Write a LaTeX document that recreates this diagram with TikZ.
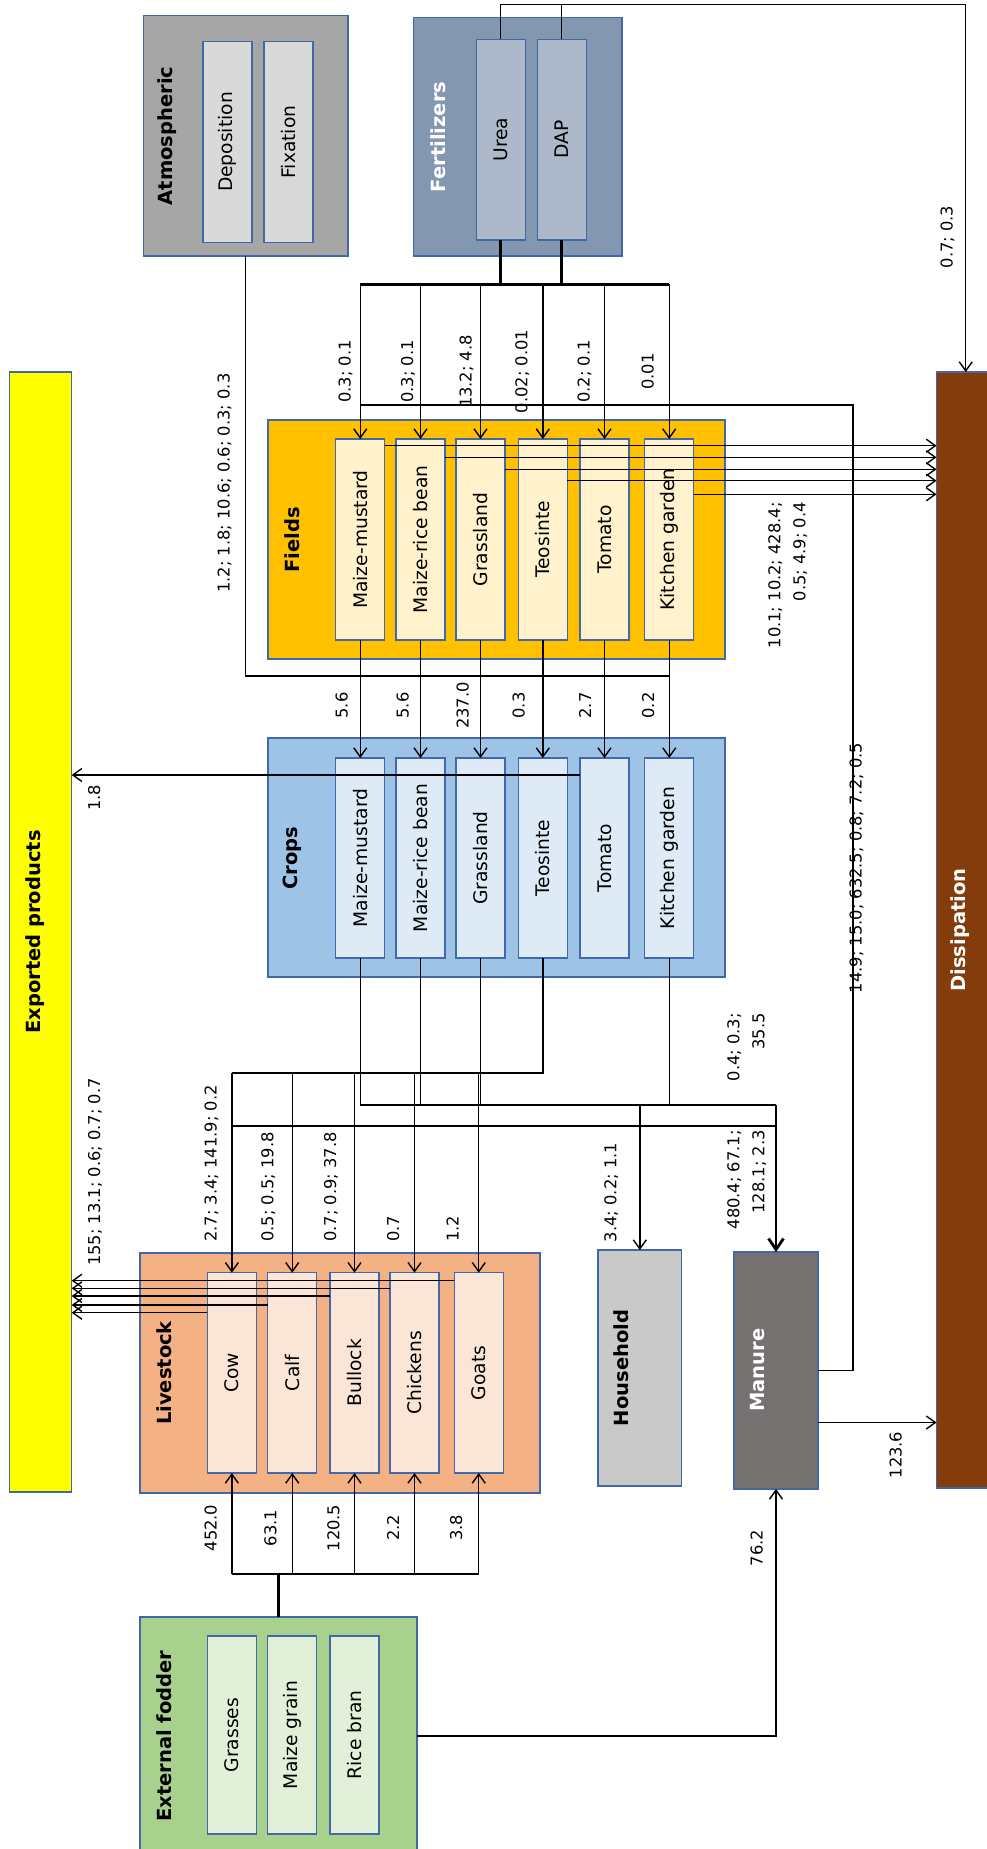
\documentclass[tikz,border=0pt]{standalone}
\usepackage{fontspec}
\setmainfont{DejaVu Sans}
\usetikzlibrary{arrows.meta}

\definecolor{bord}{RGB}{65,105,170}
\definecolor{atmO}{RGB}{166,166,166}
\definecolor{atmI}{RGB}{217,217,217}
\definecolor{ferO}{RGB}{132,151,176}
\definecolor{ferI}{RGB}{173,185,202}
\definecolor{fldO}{RGB}{255,192,0}
\definecolor{fldI}{RGB}{255,242,204}
\definecolor{crpO}{RGB}{157,195,230}
\definecolor{crpI}{RGB}{222,235,247}
\definecolor{expO}{RGB}{255,255,0}
\definecolor{disO}{RGB}{132,60,12}
\definecolor{lvsO}{RGB}{244,177,131}
\definecolor{lvsI}{RGB}{251,229,214}
\definecolor{hhO}{RGB}{201,201,201}
\definecolor{mnrO}{RGB}{118,113,113}
\definecolor{fodO}{RGB}{169,209,142}
\definecolor{fodI}{RGB}{226,240,217}

\begin{document}
\begin{tikzpicture}[x=1pt,y=-1pt,
  box/.style={draw=bord, line width=1.1pt, inner sep=0pt, outer sep=0pt},
  item/.style={box, minimum width=49pt, font=\fontsize{18.7}{22}\selectfont},
  ttl/.style={rotate=90, font=\fontsize{19.5}{23}\selectfont\bfseries, inner sep=0pt},
  lab/.style={rotate=90, font=\fontsize{16.3}{25}\selectfont, inner sep=0pt},
  ln/.style={line width=1.4pt},
  arr/.style={ln, -{Straight Barb[length=9pt,width=13pt]}},
  bus/.style={line width=2.8pt},
  bigarr/.style={bus, -{Straight Barb[length=11pt,width=15pt]}},
]
\useasboundingbox[fill=white] (0,0) rectangle (987,1849);

% ---------- sources ----------
\node[box, fill=atmO, minimum width=204.5pt, minimum height=240.3pt] (atm) at (245.75,135.85) {};
\node[ttl] (atmT) at (167,136) {Atmospheric};
\node[item, fill=atmI, minimum height=200.6pt] (dep) at (227.5,142) {\rotatebox{90}{Deposition}};
\node[item, fill=atmI, minimum height=200.6pt] (fix) at (288.5,142) {\rotatebox{90}{Fixation}};

\node[box, fill=ferO, minimum width=208.4pt, minimum height=238.3pt] (fer) at (517.8,136.85) {};
\node[ttl, text=white] (ferT) at (438,137) {Fertilizers};
\node[item, fill=ferI, minimum height=200.7pt] (urea) at (500.7,139.65) {\rotatebox{90}{Urea}};
\node[item, fill=ferI, minimum height=200.7pt] (dap) at (561.6,139.65) {\rotatebox{90}{DAP}};

% ---------- fields and crops ----------
\node[box, fill=fldO, minimum width=457pt, minimum height=239pt] (fld) at (496.5,539.5) {};
\node[ttl] (fldT) at (292,540) {Fields};
\node[box, fill=crpO, minimum width=457pt, minimum height=239pt] (crp) at (496.5,857.5) {};
\node[ttl] (crpT) at (292,858) {Crops};
\foreach \n/\x/\t in {mm/360.25/Maize-mustard, mr/420.5/Maize-rice bean, gr/480.5/Grassland,
                      te/542.8/Teosinte, tm/604.5/Tomato, kg/669.25/Kitchen garden}{
  \node[item, fill=fldI, minimum height=201pt] (f\n) at (\x,539.5) {\rotatebox{90}{\t}};
  \node[item, fill=crpI, minimum height=200pt] (c\n) at (\x,858) {\rotatebox{90}{\t}};
}

% ---------- sinks ----------
\node[box, fill=expO, minimum width=62.3pt, minimum height=1120pt] (exp) at (40.55,932) {};
\node[ttl] (expT) at (35,932) {Exported products};
\node[box, fill=disO, minimum width=58.5pt, minimum height=1116pt] (diss) at (965.75,930) {};
\node[ttl, text=white] (dissT) at (960,930) {Dissipation};

% ---------- livestock, household, manure ----------
\node[box, fill=lvsO, minimum width=400pt, minimum height=240pt] (lvs) at (340,1373) {};
\node[ttl] (lvsT) at (164,1373) {Livestock};
\foreach \n/\x/\t in {cow/231.85/Cow, calf/292.25/Calf, bul/354.5/Bullock, chk/414.5/Chickens, goat/478.75/Goats}{
  \node[item, fill=lvsI, minimum height=200.3pt] (\n) at (\x,1372.85) {\rotatebox{90}{\t}};
}
\node[box, fill=hhO, minimum width=83.6pt, minimum height=236pt] (hh) at (639.8,1368) {};
\node[ttl] (hhT) at (621,1368) {Household};
\node[box, fill=mnrO, minimum width=84pt, minimum height=237pt] (mnr) at (776,1370.5) {};
\node[ttl, text=white] (mnrT) at (758,1370) {Manure};

% ---------- external fodder ----------
\node[box, fill=fodO, minimum width=277pt, minimum height=238pt] (fod) at (278.5,1736) {};
\node[ttl] (fodT) at (164,1736) {External fodder};
\foreach \n/\x/\t in {gra/231.85/Grasses, mgr/292.25/Maize grain, rbr/354.5/Rice bran}{
  \node[item, fill=fodI, minimum height=198pt] (\n) at (\x,1735) {\rotatebox{90}{\t}};
}

% ---------- helper points ----------
\coordinate (topR) at (965.75,4.3);
\coordinate (fbus) at (360.25,284.3);
\coordinate (mret) at (853,405);
\coordinate (atmC) at (245.75,676);
\coordinate (lbus) at (231.85,1073);
\coordinate (cbus) at (776,1105);
\coordinate (lmbus) at (231.85,1126);
\coordinate (xbus) at (231.85,1574);

% fertilizers: losses and application
\draw[ln] (urea.north) -- (urea.north |- topR) -- (topR);
\draw[ln] (dap.north) -- (dap.north |- topR);
\draw[arr] (topR) -- (diss.north);
\draw[bus] (urea.south) -- (urea.south |- fbus);
\draw[bus] (dap.south) -- (dap.south |- fbus);
\draw[bus] (fbus) -- (fbus -| fkg.north);
\foreach \n in {mm,mr,gr,te,tm,kg}{ \draw[arr] (f\n.north |- fbus) -- (f\n.north); }

% manure returned to fields
\draw[ln] (mnr.east) -| (mret) -- (mret -| fmm.north);

% atmospheric inputs
\draw[ln] (atm.south) -- (atmC) -- (atmC -| fkg.south);

% fields to crops
\foreach \n in {mm,mr,gr,te,tm,kg}{ \draw[arr] (f\n.south) -- (c\n.north); }

% fields to dissipation
\foreach \n/\d in {mm/6.7, mr/18.3, gr/30.3, te/41.7, kg/55.3}{
  \coordinate (d\n) at ([yshift=-\d pt]f\n.north east);
  \draw[arr] (d\n) -- (d\n -| diss.west);
}

% tomato exported
\coordinate (etm) at ([yshift=-17pt]ctm.north west);
\draw[arr] (etm) -- (etm -| exp.east);

% crops to livestock
\draw[ln] (cte.south) |- (lbus);
\foreach \n in {cow,calf,bul,chk,goat}{ \draw[arr] (\n.north |- lbus) -- (\n.north); }

% crops to household and manure
\draw[ln] (cmm.south) |- (cbus);
\foreach \n in {mr,gr,kg}{ \draw[ln] (c\n.south) -- (c\n.south |- cbus); }
\draw[arr] (hh.north |- cbus) -- (hh.north);
\draw[ln] (lmbus) -- (lmbus -| mnr.north);
\draw[bigarr] (cbus) -- (mnr.north);

% livestock products exported
\foreach \n/\d in {goat/8, chk/15.6, bul/23.3, calf/32.3, cow/40}{
  \coordinate (e\n) at ([yshift=-\d pt]\n.north west);
  \draw[arr] (e\n) -- (e\n -| exp.east);
}

% manure losses
\coordinate (mdis) at ([yshift=-52pt]mnr.east);
\draw[arr] (mdis) -- (mdis -| diss.west);

% external fodder
\draw[arr] (fod.east) -| (mnr.south);
\draw[bus] (fod.north) -- (fod.north |- xbus);
\draw[line width=1.8pt] (xbus) -- (xbus -| goat.south);
\foreach \n in {cow,calf,bul,chk,goat}{ \draw[arr] (\n.south |- xbus) -- (\n.south); }

% ---------- flow values ----------
\node[lab, anchor=mid] (l01) at (950,237) {0.7; 0.3};
\node[lab, anchor=mid west] (l02) at (227,593) {1.2; 1.8; 10.6; 0.6; 0.3; 0.3};
\foreach \x/\t [count=\i] in {348/{0.3; 0.1}, 410.4/{0.3; 0.1}, 469/{13.2; 4.8}, 524.6/{0.02; 0.01}, 587/{0.2; 0.1}, 651/{0.01}}{
  \node[lab, anchor=mid] (fa\i) at (\x,371.5) {\t};
}
\foreach \x/\t [count=\i] in {345/5.6, 406/5.6, 466/237.0, 522/0.3, 588.5/2.7, 651.5/0.2}{
  \node[lab, anchor=mid] (fc\i) at (\x,705.5) {\t};
}
\node[lab, anchor=north east, align=right] (l03) at (768,502) {10.1; 10.2; 428.4;\\0.5; 4.9; 0.4};
\node[lab, anchor=mid] (l04) at (859,868) {14.9; 15.0; 632.5; 0.8; 7.2; 0.5};
\node[lab, anchor=mid] (l05) at (97.5,798) {1.8};
\node[lab, anchor=mid] (l06) at (97.5,1172) {155; 13.1; 0.6; 0.7; 0.7};
\foreach \x/\t [count=\i] in {214/{2.7; 3.4; 141.9; 0.2}, 270.6/{0.5; 0.5; 19.8}, 333.5/{0.7; 0.9; 37.8}, 396.5/0.7, 456/1.2}{
  \node[lab, anchor=mid west] (cl\i) at (\x,1242) {\t};
}
\node[lab, anchor=north east, align=right] (l07) at (727,1013) {0.4; 0.3;\\35.5};
\node[lab, anchor=mid] (l08) at (613.6,1192.5) {3.4; 0.2; 1.1};
\node[lab, anchor=north east, align=right] (l09) at (727,1130) {480.4; 67.1;\\128.1; 2.3};
\node[lab, anchor=mid] (l10) at (899,1455) {123.6};
\foreach \x/\t [count=\i] in {214/452.0, 273.7/63.1, 336.7/120.5, 396.5/2.2, 459.4/3.8}{
  \node[lab, anchor=mid] (xl\i) at (\x,1528) {\t};
}
\node[lab, anchor=mid] (l11) at (760,1548) {76.2};
\end{tikzpicture}
\end{document}
